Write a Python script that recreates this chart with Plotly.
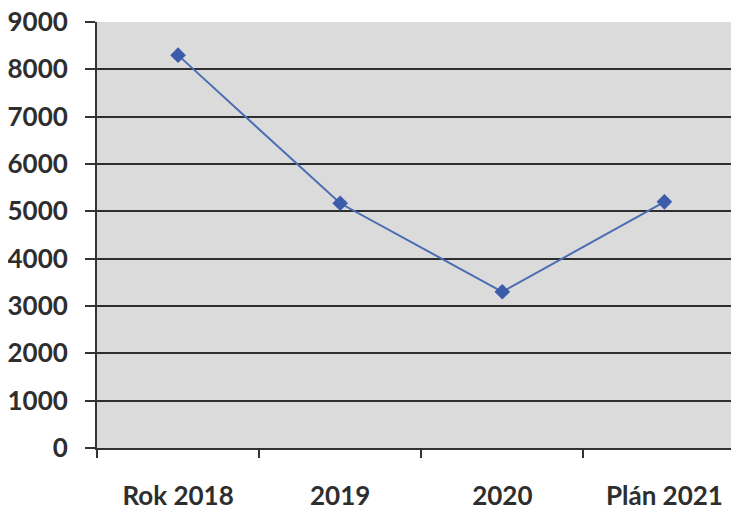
import plotly.graph_objects as go

categories = ["Rok 2018", "2019", "2020", "Plán 2021"]
values = [8300, 5170, 3300, 5200]
y_ticks = [0, 1000, 2000, 3000, 4000, 5000, 6000, 7000, 8000, 9000]

fig = go.Figure()
fig.add_trace(go.Scatter(
    x=categories, y=values, mode="lines+markers",
    line=dict(color="#4a6db3", width=2),
    marker=dict(symbol="diamond", size=12, color="#3a5cab"),
    showlegend=False,
))

font = dict(family="Lato, Open Sans, sans-serif", size=26, color="#2e2e2e", weight="bold")

fig.update_layout(
    width=731, height=499,
    margin=dict(l=89, r=0, t=14, b=59),
    paper_bgcolor="white",
    plot_bgcolor="#dbdbdb",
    xaxis=dict(
        range=[-0.5, 3.46], type="category", automargin=False,
        tickson="boundaries", ticks="outside", ticklen=8, tickwidth=2, tickcolor="#333",
        showgrid=False, showline=True, linecolor="#333", linewidth=2,
        tickfont=font, ticklabelstandoff=24, ticklabeloverflow="allow",
    ),
    yaxis=dict(
        range=[0, 9000], tickvals=y_ticks, automargin=False,
        ticks="outside", ticklen=10, tickwidth=2, tickcolor="#333",
        showgrid=True, gridcolor="#2e2e2e", gridwidth=2,
        showline=True, linecolor="#333", linewidth=2,
        zeroline=False,
        tickfont=font, ticklabelstandoff=12, ticklabeloverflow="allow",
    ),
)

fig.write_html("out.html")
